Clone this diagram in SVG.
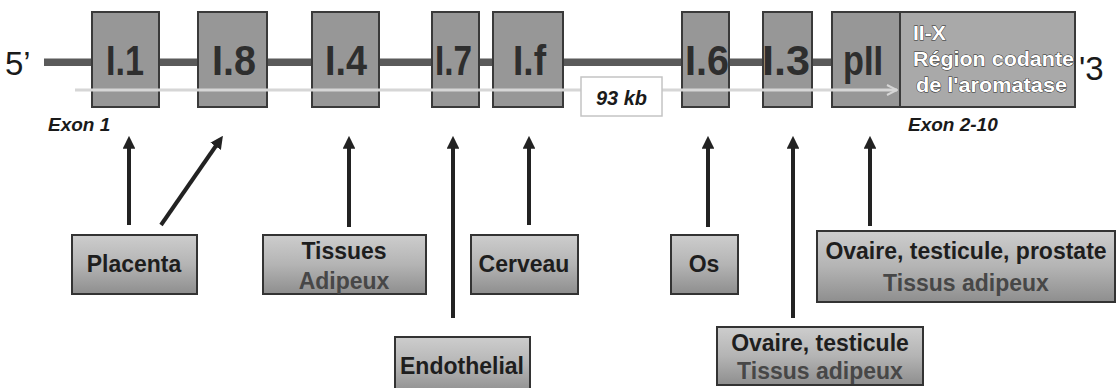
<svg xmlns="http://www.w3.org/2000/svg" width="1117" height="388" viewBox="0 0 1117 388">
  <style>
    .exon { fill: #979797; stroke: #3a3a3a; stroke-width: 2; }
    .code { fill: #a9a9a9; stroke: #3a3a3a; stroke-width: 2; }
    .tissue { fill: url(#tissueFill); stroke: #333; stroke-width: 2; }
    .xl { font-family: "Liberation Sans", Arial, sans-serif; font-size: 43px; font-weight: bold; fill: #2e2e2e; }
    .end { font-family: "Liberation Sans", Arial, sans-serif; font-size: 33px; fill: #1a1a1a; }
    .cap { font-family: "Liberation Sans", Arial, sans-serif; font-size: 19px; font-weight: bold; font-style: italic; fill: #1a1a1a; }
    .cod { font-family: "Liberation Sans", Arial, sans-serif; font-size: 21px; font-weight: bold; fill: #ffffff; stroke: #2a2a2a; stroke-width: 0.9; paint-order: stroke; }
    .lbl { font-family: "Liberation Sans", Arial, sans-serif; font-size: 23px; font-weight: bold; fill: #1e1e1e; text-anchor: middle; }
    .fade { fill: #474747; }
    .arrow { stroke: #222; stroke-width: 4; fill: none; marker-end: url(#head); }
  </style>
  <defs>
    <linearGradient id="tissueFill" x1="0" y1="0" x2="0" y2="1">
      <stop offset="0" stop-color="#cdcdcd"/>
      <stop offset="0.5" stop-color="#b4b4b4"/>
      <stop offset="1" stop-color="#8e8e8e"/>
    </linearGradient>
    <marker id="head" viewBox="0 0 10 10" refX="6" refY="5" markerWidth="3.2" markerHeight="3.2" orient="auto" markerUnits="strokeWidth">
      <path d="M0,0 L10,5 L0,10 z" fill="#222"/>
    </marker>
    <marker id="lightHead" viewBox="0 0 12 12" refX="11" refY="6" markerWidth="12" markerHeight="12" orient="auto" markerUnits="userSpaceOnUse">
      <path d="M1,1 L11,6 L1,11" fill="none" stroke="#d6d6d6" stroke-width="2"/>
    </marker>
  </defs>

  <!-- gene backbone -->
  <g id="backbone">
    <rect x="44" y="58.5" width="790" height="7.5" fill="#5a5a5a"/>
    <text class="end" x="5" y="75">5’</text>
    <text class="end" x="1079" y="80">'3</text>
  </g>

  <!-- untranslated first exons and promoter II -->
  <g id="exon-I1"><rect class="exon" x="92" y="12" width="67" height="95"/><text class="xl" x="106" y="75" textLength="38" lengthAdjust="spacingAndGlyphs">I.1</text></g>
  <g id="exon-I8"><rect class="exon" x="198" y="12" width="69" height="95"/><text class="xl" x="212" y="75" textLength="44" lengthAdjust="spacingAndGlyphs">I.8</text></g>
  <g id="exon-I4"><rect class="exon" x="312" y="12" width="67" height="95"/><text class="xl" x="325" y="75" textLength="42" lengthAdjust="spacingAndGlyphs">I.4</text></g>
  <g id="exon-I7"><rect class="exon" x="432" y="12" width="47" height="95"/><text class="xl" x="435" y="75" textLength="37" lengthAdjust="spacingAndGlyphs">I.7</text></g>
  <g id="exon-If"><rect class="exon" x="493" y="12" width="70" height="95"/><text class="xl" x="513" y="75" textLength="33" lengthAdjust="spacingAndGlyphs">I.f</text></g>
  <g id="exon-I6"><rect class="exon" x="682" y="12" width="47" height="95"/><text class="xl" x="685" y="75" textLength="44" lengthAdjust="spacingAndGlyphs">I.6</text></g>
  <g id="exon-I3"><rect class="exon" x="763" y="12" width="49" height="95"/><text class="xl" x="762" y="75" textLength="48" lengthAdjust="spacingAndGlyphs">I.3</text></g>
  <g id="exon-pII"><rect class="exon" x="832" y="12" width="68" height="95"/><text class="xl" x="843" y="75" textLength="40" lengthAdjust="spacingAndGlyphs">pII</text></g>

  <!-- coding exons II-X -->
  <g id="coding-region">
    <rect class="code" x="900" y="12" width="175" height="95"/>
    <text class="cod" x="913" y="40">II-X</text>
    <text class="cod" x="913" y="66" textLength="161" lengthAdjust="spacingAndGlyphs">Région codante</text>
    <text class="cod" x="916" y="92" textLength="151" lengthAdjust="spacingAndGlyphs">de l'aromatase</text>
  </g>

  <!-- transcript span -->
  <g id="span">
    <line x1="75" y1="90" x2="897" y2="90" stroke="#d6d6d6" stroke-width="3" marker-end="url(#lightHead)"/>
    <rect x="581" y="77" width="81" height="39" fill="#ffffff" stroke="#c4c4c4" stroke-width="1.5"/>
    <text class="cap" x="621.5" y="105" text-anchor="middle" style="font-size:20px">93 kb</text>
  </g>

  <g id="exon-captions">
    <text class="cap" x="48" y="131">Exon 1</text>
    <text class="cap" x="908" y="131">Exon 2-10</text>
  </g>

  <!-- tissue-specific promoter usage -->
  <g id="connectors">
    <line class="arrow" x1="129" y1="225" x2="129" y2="141"/>
    <line class="arrow" x1="161" y1="225" x2="220" y2="140"/>
    <line class="arrow" x1="349" y1="227" x2="349" y2="141"/>
    <line class="arrow" x1="453" y1="318" x2="453" y2="141"/>
    <line class="arrow" x1="529" y1="225" x2="529" y2="141"/>
    <line class="arrow" x1="708" y1="227" x2="708" y2="141"/>
    <line class="arrow" x1="793" y1="318" x2="793" y2="141"/>
    <line class="arrow" x1="870" y1="226" x2="870" y2="141"/>
  </g>

  <g id="placenta"><rect class="tissue" x="72" y="235" width="125" height="59"/><text class="lbl" x="134" y="272">Placenta</text></g>
  <g id="tissues-adipeux"><rect class="tissue" x="263" y="235" width="163" height="59"/><text class="lbl" x="344" y="259">Tissues</text><text class="lbl fade" x="344" y="289">Adipeux</text></g>
  <g id="cerveau"><rect class="tissue" x="471" y="235" width="107" height="59"/><text class="lbl" x="524" y="272">Cerveau</text></g>
  <g id="os"><rect class="tissue" x="671" y="235" width="67" height="59"/><text class="lbl" x="704" y="272">Os</text></g>
  <g id="ovaire-prostate"><rect class="tissue" x="817" y="231" width="298" height="71"/><text class="lbl" x="966" y="259">Ovaire, testicule, prostate</text><text class="lbl fade" x="966" y="291">Tissus adipeux</text></g>
  <g id="endothelial"><rect class="tissue" x="395" y="337" width="135" height="57"/><text class="lbl" x="462" y="374">Endothelial</text></g>
  <g id="ovaire-testicule"><rect class="tissue" x="717" y="327" width="206" height="58"/><text class="lbl" x="820" y="351">Ovaire, testicule</text><text class="lbl fade" x="820" y="379">Tissus adipeux</text></g>
</svg>
